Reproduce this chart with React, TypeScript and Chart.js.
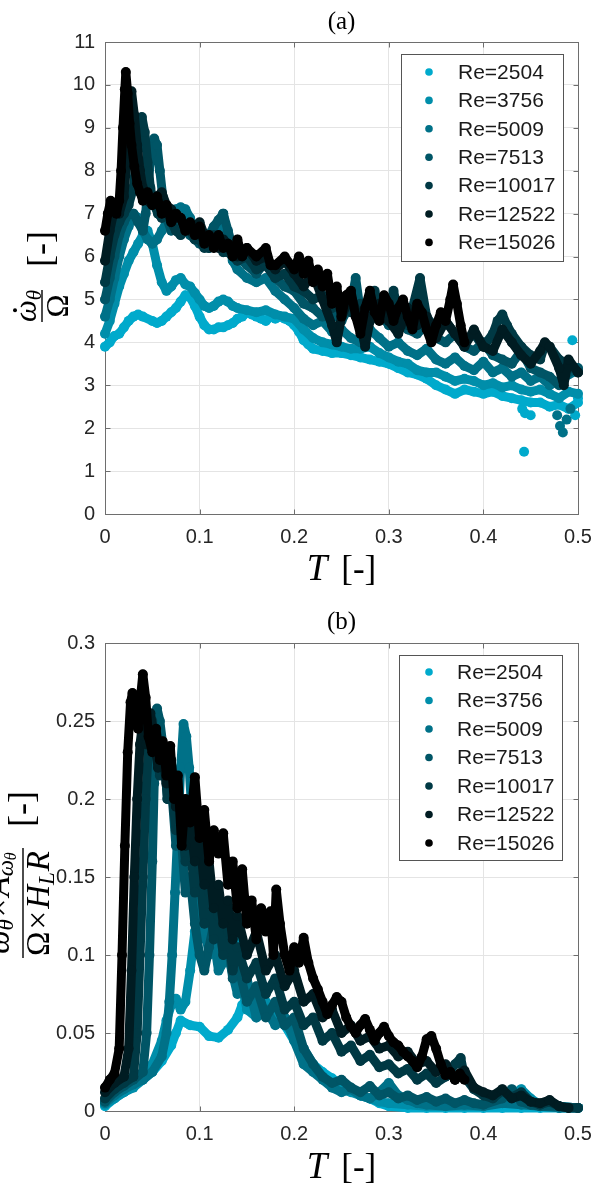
import React, { useEffect, useRef } from "react";
import { Chart, registerables } from "chart.js";
Chart.register(...registerables);

type P = [number, number];

const reLabels = ["Re=2504", "Re=3756", "Re=5009", "Re=7513", "Re=10017", "Re=12522", "Re=15026"];
const seriesColors = ["#00aacc", "#008eaa", "#007188", "#005566", "#003944", "#001c22", "#000000"];
const xTickLabels = ["0", "0.1", "0.2", "0.3", "0.4", "0.5"];
const yTickLabelsA = ["0", "1", "2", "3", "4", "5", "6", "7", "8", "9", "10", "11"];
const yTickLabelsB = ["0", "0.05", "0.1", "0.15", "0.2", "0.25", "0.3"];

// ---------- panel (a) : dω/Ω ----------
const a2504: P[] = [[0,3.9],[0.005,4.0],[0.01,4.15],[0.015,4.2],[0.02,4.35],[0.025,4.5],[0.03,4.6],[0.035,4.65],[0.04,4.6],[0.05,4.5],[0.055,4.45],[0.06,4.5],[0.065,4.6],[0.07,4.7],[0.075,4.8],[0.08,4.95],[0.085,5.1],[0.09,5.05],[0.095,4.85],[0.1,4.6],[0.105,4.4],[0.11,4.3],[0.115,4.3],[0.12,4.35],[0.125,4.35],[0.13,4.4],[0.135,4.45],[0.14,4.55],[0.145,4.6],[0.15,4.7],[0.155,4.65],[0.16,4.6],[0.165,4.55],[0.17,4.5],[0.175,4.6],[0.18,4.55],[0.185,4.6],[0.19,4.55],[0.195,4.5],[0.2,4.4],[0.205,4.25],[0.21,4.05],[0.215,3.95],[0.22,3.85],[0.23,3.8],[0.24,3.75],[0.25,3.75],[0.26,3.7],[0.27,3.65],[0.28,3.6],[0.29,3.55],[0.3,3.5],[0.31,3.4],[0.32,3.3],[0.33,3.25],[0.34,3.15],[0.35,3.0],[0.36,2.9],[0.37,2.8],[0.38,2.9],[0.39,2.85],[0.4,2.8],[0.41,2.85],[0.42,2.75],[0.43,2.7],[0.44,2.65],[0.45,2.6],[0.46,2.6],[0.47,2.5],[0.48,2.55],[0.49,2.45],[0.5,2.6]];
const a3756: P[] = [[0,4.2],[0.005,4.5],[0.01,4.9],[0.015,5.3],[0.02,5.6],[0.025,5.9],[0.03,6.1],[0.035,6.3],[0.04,6.5],[0.045,6.6],[0.05,6.3],[0.055,5.8],[0.06,5.4],[0.065,5.2],[0.07,5.3],[0.075,5.45],[0.08,5.5],[0.085,5.35],[0.09,5.3],[0.095,5.15],[0.1,5.0],[0.105,4.85],[0.11,4.8],[0.115,4.85],[0.12,4.95],[0.125,5.0],[0.13,4.95],[0.135,4.85],[0.14,4.8],[0.15,4.75],[0.16,4.7],[0.17,4.75],[0.18,4.65],[0.19,4.6],[0.2,4.55],[0.21,4.3],[0.22,4.1],[0.23,4.0],[0.24,3.95],[0.25,3.9],[0.26,3.85],[0.27,3.85],[0.28,3.9],[0.29,3.75],[0.3,3.65],[0.31,3.55],[0.32,3.5],[0.33,3.35],[0.34,3.3],[0.35,3.3],[0.36,3.2],[0.37,3.1],[0.38,3.15],[0.39,3.1],[0.4,3.0],[0.41,3.05],[0.42,2.95],[0.43,3.0],[0.44,2.9],[0.45,2.85],[0.46,2.9],[0.47,2.8],[0.48,2.7],[0.49,2.85],[0.5,2.8]];
const a5009: P[] = [[0,4.6],[0.005,5.0],[0.01,5.5],[0.015,6.0],[0.02,6.4],[0.025,6.7],[0.03,7.0],[0.035,6.9],[0.04,6.6],[0.045,6.4],[0.05,6.3],[0.055,6.4],[0.06,6.6],[0.065,6.8],[0.07,7.0],[0.075,7.1],[0.08,7.15],[0.085,7.1],[0.09,6.9],[0.095,6.6],[0.1,6.4],[0.105,6.3],[0.11,6.2],[0.115,6.4],[0.12,6.7],[0.125,7.0],[0.13,6.4],[0.135,5.9],[0.14,5.7],[0.15,5.5],[0.16,5.4],[0.17,5.5],[0.18,5.2],[0.19,5.0],[0.2,4.8],[0.21,4.55],[0.22,4.4],[0.23,4.5],[0.24,4.25],[0.25,4.3],[0.26,4.1],[0.27,4.0],[0.28,4.3],[0.29,4.1],[0.3,3.9],[0.31,4.0],[0.32,3.8],[0.33,3.7],[0.34,3.85],[0.35,3.6],[0.36,3.5],[0.37,3.65],[0.38,3.45],[0.39,3.35],[0.4,3.55],[0.41,3.3],[0.42,3.4],[0.43,3.2],[0.44,3.3],[0.45,3.1],[0.46,3.2],[0.47,3.0],[0.48,3.1],[0.49,3.25],[0.5,3.35]];
const a7513: P[] = [[0,5.0],[0.005,5.5],[0.01,6.0],[0.015,6.5],[0.02,6.8],[0.025,7.0],[0.03,7.0],[0.035,6.8],[0.04,6.6],[0.043,7.0],[0.046,7.8],[0.049,8.4],[0.052,8.75],[0.055,8.6],[0.058,8.0],[0.061,7.4],[0.065,6.9],[0.07,6.6],[0.075,6.7],[0.08,6.75],[0.085,6.6],[0.09,6.5],[0.095,6.4],[0.1,6.3],[0.105,6.4],[0.11,6.5],[0.115,6.7],[0.12,6.85],[0.125,7.0],[0.13,6.6],[0.135,6.2],[0.14,6.0],[0.15,5.8],[0.16,5.6],[0.17,5.9],[0.18,5.5],[0.19,5.3],[0.2,5.2],[0.21,4.9],[0.22,4.8],[0.23,4.6],[0.24,4.7],[0.25,4.5],[0.26,4.9],[0.265,5.5],[0.27,4.7],[0.28,4.5],[0.29,4.7],[0.3,4.4],[0.31,4.5],[0.32,4.3],[0.33,4.2],[0.34,4.4],[0.35,4.1],[0.36,4.0],[0.37,4.2],[0.38,3.9],[0.39,3.8],[0.4,4.0],[0.41,3.7],[0.42,3.6],[0.43,3.5],[0.44,3.8],[0.45,3.4],[0.46,3.3],[0.47,3.2],[0.48,3.0],[0.49,3.3],[0.5,3.4]];
const a10017: P[] = [[0,5.4],[0.005,6.0],[0.01,6.5],[0.015,6.8],[0.02,7.0],[0.025,7.2],[0.03,7.6],[0.033,8.3],[0.036,8.9],[0.039,9.25],[0.042,8.9],[0.045,8.2],[0.048,7.6],[0.052,7.2],[0.056,7.0],[0.06,6.9],[0.065,7.0],[0.07,6.8],[0.075,6.6],[0.08,6.5],[0.085,6.7],[0.09,6.6],[0.095,6.4],[0.1,6.4],[0.105,6.2],[0.11,6.2],[0.115,6.5],[0.12,6.4],[0.125,6.1],[0.13,6.1],[0.14,5.9],[0.15,6.0],[0.16,5.7],[0.17,5.8],[0.18,5.5],[0.19,5.6],[0.2,5.3],[0.21,5.2],[0.22,5.0],[0.23,5.1],[0.24,4.8],[0.25,4.9],[0.26,4.7],[0.27,4.9],[0.28,4.6],[0.285,5.2],[0.29,4.8],[0.3,4.5],[0.305,5.2],[0.31,4.7],[0.32,4.4],[0.325,4.8],[0.333,5.5],[0.34,4.6],[0.35,4.3],[0.36,4.5],[0.37,4.2],[0.38,4.0],[0.39,4.2],[0.4,3.9],[0.41,4.2],[0.415,4.5],[0.42,4.65],[0.425,4.4],[0.43,4.2],[0.44,3.9],[0.45,3.7],[0.46,3.6],[0.465,3.95],[0.47,3.9],[0.48,3.6],[0.49,3.5],[0.5,3.3]];
const a12522: P[] = [[0,5.9],[0.005,6.6],[0.01,7.1],[0.015,7.0],[0.02,7.4],[0.023,8.2],[0.026,9.3],[0.028,9.85],[0.031,9.3],[0.034,8.6],[0.037,8.0],[0.04,7.6],[0.045,7.3],[0.05,7.2],[0.055,7.4],[0.06,7.5],[0.065,7.2],[0.07,7.1],[0.075,6.9],[0.08,6.9],[0.085,6.6],[0.09,6.6],[0.095,6.7],[0.1,6.8],[0.105,6.5],[0.11,6.4],[0.115,6.3],[0.12,6.2],[0.125,6.4],[0.13,6.3],[0.14,6.0],[0.15,6.2],[0.16,5.9],[0.17,6.0],[0.18,5.7],[0.19,5.9],[0.2,5.6],[0.21,5.3],[0.22,5.6],[0.23,5.0],[0.24,4.4],[0.245,4.0],[0.25,4.6],[0.26,5.1],[0.27,4.4],[0.275,3.9],[0.28,4.5],[0.29,4.9],[0.3,4.5],[0.31,4.2],[0.32,4.8],[0.33,4.4],[0.34,4.6],[0.35,4.1],[0.36,4.5],[0.37,4.2],[0.38,3.9],[0.39,4.3],[0.4,3.9],[0.41,3.8],[0.42,4.3],[0.43,4.0],[0.44,3.7],[0.45,3.5],[0.46,3.8],[0.465,4.0],[0.47,3.9],[0.48,3.4],[0.485,3.0],[0.49,3.6],[0.5,3.3]];
const a15026: P[] = [[0,6.6],[0.003,7.0],[0.006,7.3],[0.009,7.1],[0.012,7.0],[0.015,7.3],[0.017,8.0],[0.019,9.0],[0.021,9.9],[0.022,10.3],[0.024,9.8],[0.026,9.1],[0.028,8.6],[0.031,8.1],[0.034,7.7],[0.037,7.5],[0.04,7.3],[0.045,7.5],[0.05,7.2],[0.055,7.4],[0.06,7.0],[0.065,7.2],[0.07,6.8],[0.075,7.0],[0.08,6.9],[0.085,6.6],[0.09,6.8],[0.095,6.5],[0.1,6.7],[0.105,6.3],[0.11,6.5],[0.115,6.2],[0.12,6.5],[0.125,6.2],[0.13,6.3],[0.135,6.0],[0.14,6.4],[0.145,6.0],[0.15,6.2],[0.16,6.0],[0.17,6.2],[0.175,5.8],[0.18,5.8],[0.19,6.0],[0.2,5.7],[0.205,6.0],[0.21,5.6],[0.215,5.9],[0.22,5.4],[0.225,5.7],[0.23,5.3],[0.235,5.6],[0.24,4.9],[0.245,5.3],[0.25,4.6],[0.255,5.1],[0.26,5.2],[0.265,4.6],[0.27,4.2],[0.275,4.8],[0.28,5.2],[0.285,4.7],[0.29,4.5],[0.295,5.1],[0.3,4.9],[0.305,4.5],[0.31,4.8],[0.315,5.0],[0.32,4.6],[0.325,4.3],[0.33,4.9],[0.335,4.7],[0.34,4.3],[0.345,4.0],[0.35,4.4],[0.355,4.7],[0.36,4.5],[0.365,5.0],[0.368,5.35],[0.372,4.9],[0.376,4.4],[0.38,4.0]];
const aStray2504: P[] = [[0.443,1.45],[0.441,2.45],[0.444,2.35],[0.45,2.3],[0.494,4.05],[0.497,2.3],[0.5,2.7]];
const aStray5009: P[] = [[0.478,2.3],[0.481,2.05],[0.484,1.9],[0.488,2.2],[0.492,2.45]];

// ---------- panel (b) : normalised circulation ----------
const b2504: P[] = [[0,0.003],[0.01,0.008],[0.02,0.012],[0.03,0.016],[0.04,0.02],[0.05,0.025],[0.06,0.032],[0.07,0.042],[0.075,0.05],[0.08,0.058],[0.09,0.055],[0.1,0.054],[0.11,0.048],[0.12,0.047],[0.13,0.052],[0.14,0.06],[0.145,0.068],[0.15,0.072],[0.16,0.068],[0.17,0.062],[0.18,0.06],[0.19,0.055],[0.2,0.045],[0.21,0.035],[0.22,0.03],[0.23,0.025],[0.24,0.021],[0.25,0.016],[0.26,0.013],[0.27,0.01],[0.28,0.008],[0.29,0.005],[0.3,0.003],[0.32,0.002],[0.34,0.002],[0.36,0.002],[0.38,0.002],[0.4,0.002],[0.42,0.002],[0.44,0.002],[0.46,0.002],[0.48,0.002],[0.5,0.002]];
const b3756: P[] = [[0,0.004],[0.01,0.008],[0.02,0.012],[0.03,0.015],[0.04,0.02],[0.05,0.03],[0.06,0.045],[0.065,0.058],[0.07,0.068],[0.075,0.072],[0.08,0.065],[0.085,0.07],[0.09,0.09],[0.095,0.115],[0.1,0.13],[0.105,0.145],[0.11,0.15],[0.115,0.13],[0.12,0.11],[0.125,0.12],[0.13,0.13],[0.135,0.12],[0.14,0.1],[0.145,0.08],[0.15,0.065],[0.16,0.06],[0.17,0.07],[0.18,0.065],[0.19,0.055],[0.2,0.05],[0.21,0.04],[0.22,0.03],[0.23,0.022],[0.24,0.018],[0.25,0.014],[0.26,0.012],[0.27,0.01],[0.28,0.008],[0.29,0.006],[0.3,0.005],[0.32,0.004],[0.34,0.003],[0.36,0.003],[0.38,0.003],[0.4,0.003],[0.42,0.008],[0.44,0.014],[0.45,0.008],[0.46,0.004],[0.48,0.003],[0.5,0.002]];
const b5009: P[] = [[0,0.005],[0.01,0.01],[0.02,0.014],[0.03,0.017],[0.04,0.02],[0.05,0.025],[0.06,0.035],[0.065,0.05],[0.068,0.07],[0.071,0.1],[0.074,0.14],[0.077,0.18],[0.08,0.22],[0.083,0.248],[0.086,0.24],[0.089,0.22],[0.092,0.19],[0.095,0.16],[0.098,0.13],[0.1,0.11],[0.105,0.12],[0.11,0.1],[0.115,0.11],[0.12,0.09],[0.13,0.1],[0.14,0.075],[0.15,0.085],[0.16,0.06],[0.17,0.065],[0.18,0.055],[0.19,0.06],[0.2,0.045],[0.21,0.03],[0.22,0.025],[0.23,0.02],[0.24,0.015],[0.25,0.012],[0.26,0.014],[0.27,0.01],[0.28,0.008],[0.29,0.012],[0.3,0.018],[0.31,0.01],[0.32,0.007],[0.33,0.005],[0.34,0.004],[0.36,0.003],[0.38,0.004],[0.4,0.003],[0.42,0.005],[0.44,0.004],[0.46,0.003],[0.48,0.002],[0.5,0.002]];
const b7513: P[] = [[0,0.006],[0.01,0.012],[0.02,0.016],[0.03,0.02],[0.04,0.025],[0.044,0.05],[0.047,0.1],[0.05,0.16],[0.052,0.21],[0.053,0.24],[0.055,0.258],[0.058,0.25],[0.062,0.23],[0.066,0.2],[0.07,0.21],[0.075,0.17],[0.08,0.18],[0.085,0.14],[0.09,0.15],[0.095,0.12],[0.1,0.1],[0.105,0.09],[0.11,0.105],[0.115,0.12],[0.12,0.125],[0.125,0.1],[0.13,0.11],[0.135,0.085],[0.14,0.095],[0.15,0.07],[0.16,0.08],[0.17,0.06],[0.18,0.07],[0.19,0.055],[0.2,0.06],[0.21,0.04],[0.22,0.03],[0.23,0.022],[0.24,0.018],[0.25,0.02],[0.26,0.015],[0.27,0.012],[0.28,0.016],[0.29,0.01],[0.3,0.012],[0.31,0.008],[0.32,0.01],[0.33,0.007],[0.34,0.009],[0.35,0.006],[0.36,0.008],[0.37,0.005],[0.38,0.007],[0.39,0.005],[0.4,0.004],[0.42,0.008],[0.43,0.014],[0.44,0.006],[0.45,0.004],[0.46,0.003],[0.48,0.003],[0.5,0.002]];
const b10017: P[] = [[0,0.008],[0.01,0.014],[0.02,0.018],[0.03,0.022],[0.034,0.05],[0.037,0.1],[0.04,0.15],[0.043,0.2],[0.046,0.235],[0.05,0.25],[0.054,0.23],[0.058,0.215],[0.062,0.23],[0.066,0.2],[0.07,0.21],[0.075,0.18],[0.08,0.195],[0.085,0.16],[0.09,0.17],[0.095,0.14],[0.1,0.155],[0.105,0.12],[0.11,0.14],[0.115,0.11],[0.12,0.125],[0.125,0.1],[0.13,0.115],[0.135,0.09],[0.14,0.105],[0.15,0.085],[0.16,0.095],[0.17,0.075],[0.18,0.085],[0.19,0.065],[0.2,0.07],[0.21,0.055],[0.22,0.06],[0.23,0.045],[0.24,0.05],[0.25,0.038],[0.26,0.042],[0.27,0.032],[0.28,0.036],[0.29,0.028],[0.3,0.03],[0.31,0.024],[0.32,0.027],[0.33,0.02],[0.34,0.024],[0.35,0.018],[0.36,0.022],[0.37,0.03],[0.376,0.034],[0.38,0.022],[0.39,0.014],[0.4,0.01],[0.41,0.008],[0.42,0.013],[0.43,0.009],[0.44,0.012],[0.45,0.006],[0.46,0.004],[0.47,0.006],[0.48,0.003],[0.49,0.002],[0.5,0.002]];
const b12522: P[] = [[0,0.012],[0.01,0.018],[0.02,0.022],[0.025,0.04],[0.028,0.09],[0.031,0.15],[0.034,0.2],[0.037,0.235],[0.04,0.25],[0.044,0.235],[0.048,0.255],[0.052,0.24],[0.056,0.22],[0.06,0.235],[0.065,0.21],[0.07,0.225],[0.075,0.195],[0.08,0.2],[0.085,0.17],[0.09,0.185],[0.095,0.16],[0.1,0.175],[0.105,0.145],[0.11,0.16],[0.115,0.13],[0.12,0.145],[0.125,0.12],[0.13,0.135],[0.135,0.11],[0.14,0.125],[0.15,0.1],[0.16,0.115],[0.17,0.09],[0.18,0.1],[0.19,0.08],[0.2,0.09],[0.21,0.07],[0.22,0.075],[0.23,0.06],[0.24,0.065],[0.25,0.05],[0.26,0.055],[0.27,0.045],[0.28,0.048],[0.29,0.04],[0.3,0.042],[0.31,0.035],[0.32,0.038],[0.33,0.03],[0.34,0.032],[0.35,0.025],[0.36,0.03],[0.37,0.02],[0.38,0.026],[0.39,0.015],[0.4,0.012],[0.41,0.01],[0.42,0.014],[0.43,0.008],[0.44,0.01],[0.45,0.006],[0.46,0.005],[0.47,0.007],[0.48,0.003],[0.49,0.002]];
const b15026: P[] = [[0,0.015],[0.005,0.02],[0.01,0.024],[0.015,0.04],[0.018,0.1],[0.021,0.17],[0.024,0.23],[0.027,0.262],[0.029,0.268],[0.032,0.255],[0.035,0.245],[0.038,0.268],[0.04,0.28],[0.043,0.265],[0.046,0.24],[0.05,0.23],[0.054,0.245],[0.058,0.225],[0.061,0.237],[0.065,0.215],[0.069,0.234],[0.073,0.2],[0.077,0.215],[0.081,0.17],[0.085,0.2],[0.09,0.185],[0.095,0.214],[0.1,0.175],[0.105,0.193],[0.11,0.16],[0.115,0.18],[0.12,0.165],[0.125,0.178],[0.13,0.145],[0.135,0.16],[0.14,0.13],[0.145,0.155],[0.15,0.12],[0.155,0.135],[0.16,0.11],[0.165,0.13],[0.17,0.115],[0.175,0.128],[0.178,0.1],[0.181,0.142],[0.185,0.12],[0.19,0.1],[0.195,0.09],[0.2,0.105],[0.205,0.095],[0.21,0.111],[0.215,0.095],[0.22,0.085],[0.225,0.078],[0.23,0.07],[0.235,0.062],[0.24,0.068],[0.245,0.073],[0.25,0.07],[0.255,0.06],[0.26,0.054],[0.265,0.05],[0.27,0.055],[0.275,0.059],[0.28,0.052],[0.285,0.045],[0.29,0.05],[0.295,0.054],[0.3,0.048],[0.305,0.044],[0.31,0.042],[0.315,0.038],[0.32,0.035],[0.325,0.032],[0.33,0.028],[0.335,0.035],[0.34,0.046],[0.345,0.048],[0.35,0.04],[0.355,0.03],[0.36,0.023],[0.365,0.025],[0.37,0.02],[0.375,0.024],[0.38,0.02]];

const seriesA: P[][] = [a2504, a3756, a5009, a7513, a10017, a12522, a15026];
const seriesB: P[][] = [b2504, b3756, b5009, b7513, b10017, b12522, b15026];
const straysA: { idx: number; pts: P[] }[] = [{ idx: 0, pts: aStray2504 }, { idx: 2, pts: aStray5009 }];

const AXIS_COLOR = "#6e6e6e";
const GRID_COLOR = "#e4e4e4";
const TICK_FONT = "'Liberation Sans', Arial, sans-serif";
const SERIF = "'Liberation Serif', 'Times New Roman', serif";

type Decor = {
  title: string;
  titleBaseline: number;
  xLabelBaseline: number;
  yLabel: (ctx: CanvasRenderingContext2D) => void;
  legendBox: [number, number, number, number];
  legendY0: number;
  legendStep: number;
  markerX: number;
  textX: number;
};

function drawXLabel(ctx: CanvasRenderingContext2D, baseline: number, cx: number) {
  ctx.fillStyle = "#000";
  ctx.textBaseline = "alphabetic";
  ctx.font = `italic 37px ${SERIF}`;
  const wT = ctx.measureText("T").width;
  ctx.font = `35px ${SERIF}`;
  const wB = ctx.measureText("[-]").width;
  const gap = 14;
  const total = wT + gap + wB;
  const x0 = cx - total / 2;
  ctx.font = `italic 37px ${SERIF}`;
  ctx.textAlign = "left";
  ctx.fillText("T", x0, baseline);
  ctx.font = `35px ${SERIF}`;
  ctx.fillText("[-]", x0 + wT + gap, baseline);
}

function drawBracket(ctx: CanvasRenderingContext2D, centerX: number, size: number) {
  ctx.font = `${size}px ${SERIF}`;
  ctx.textAlign = "center";
  ctx.textBaseline = "middle";
  ctx.fillText("[-]", centerX, 1);
  ctx.textBaseline = "alphabetic";
  ctx.textAlign = "left";
}

function yLabelA(ctx: CanvasRenderingContext2D) {
  ctx.save();
  ctx.translate(42, 306);
  ctx.rotate(-Math.PI / 2);
  ctx.fillStyle = "#000";
  ctx.strokeStyle = "#000";
  ctx.textAlign = "left";
  ctx.textBaseline = "alphabetic";
  const fMain = `italic 31px ${SERIF}`;
  const fSub = `italic 21px ${SERIF}`;
  ctx.font = fMain;
  const wOm = ctx.measureText("ω").width;
  ctx.font = fSub;
  const wTh = ctx.measureText("θ").width;
  const numW = wOm + wTh;
  const x = -numW / 2;
  ctx.font = fMain;
  ctx.fillText("ω", x, -6);
  ctx.beginPath();
  ctx.arc(x + wOm / 2 + 1, -27, 2, 0, Math.PI * 2);
  ctx.fill();
  ctx.font = fSub;
  ctx.fillText("θ", x + wOm, -1);
  ctx.lineWidth = 1.4;
  ctx.beginPath();
  ctx.moveTo(-16, 0);
  ctx.lineTo(16, 0);
  ctx.stroke();
  ctx.font = `31px ${SERIF}`;
  const wO = ctx.measureText("Ω").width;
  ctx.fillText("Ω", -wO / 2, 26);
  drawBracket(ctx, 57, 36);
  ctx.restore();
}

function yLabelB(ctx: CanvasRenderingContext2D) {
  ctx.save();
  ctx.translate(23, 303);
  ctx.rotate(-Math.PI / 2);
  ctx.fillStyle = "#000";
  ctx.strokeStyle = "#000";
  ctx.textAlign = "left";
  ctx.textBaseline = "alphabetic";
  const fM = `italic 33px ${SERIF}`;
  const fU = `33px ${SERIF}`;
  const fS = `italic 23px ${SERIF}`;
  const fSS = `italic 16px ${SERIF}`;
  type Piece = { t: string; f: string; dy: number; pad?: number };
  const num: Piece[] = [
    { t: "ω", f: fM, dy: 0 },
    { t: "θ", f: fS, dy: 4 },
    { t: "×", f: fU, dy: 0, pad: 2 },
    { t: "A", f: fM, dy: 0 },
    { t: "ω", f: fS, dy: 4 },
    { t: "θ", f: fSS, dy: 7 },
  ];
  const den: Piece[] = [
    { t: "Ω", f: fU, dy: 0 },
    { t: "×", f: fU, dy: 0, pad: 2 },
    { t: "H", f: fM, dy: 0 },
    { t: "L", f: fS, dy: 5 },
    { t: "R", f: fM, dy: 0, pad: 1 },
  ];
  const widthOf = (arr: Piece[]) =>
    arr.reduce((s, p) => {
      ctx.font = p.f;
      return s + ctx.measureText(p.t).width + 2 * (p.pad || 0);
    }, 0);
  const drawRow = (arr: Piece[], base: number) => {
    let x = -widthOf(arr) / 2;
    arr.forEach((p) => {
      ctx.font = p.f;
      x += p.pad || 0;
      ctx.fillText(p.t, x, base + p.dy);
      x += ctx.measureText(p.t).width + (p.pad || 0);
    });
  };
  const wNum = widthOf(num);
  const wDen = widthOf(den);
  const half = Math.max(wNum, wDen) / 2 + 2;
  drawRow(num, -14);
  ctx.lineWidth = 1.4;
  ctx.beginPath();
  ctx.moveTo(-half, 0);
  ctx.lineTo(half, 0);
  ctx.stroke();
  drawRow(den, 26);
  drawBracket(ctx, 94, 36);
  ctx.restore();
}

function makeDecor(d: Decor) {
  return {
    id: "decor",
    beforeDatasetsDraw(chart: any) {
      const { ctx, chartArea: ca, scales } = chart;
      ctx.save();
      ctx.strokeStyle = AXIS_COLOR;
      ctx.lineWidth = 1;
      const L = Math.round(ca.left) + 0.5;
      const R = Math.round(ca.right) + 0.5;
      const T = Math.round(ca.top) + 0.5;
      const B = Math.round(ca.bottom) + 0.5;
      ctx.beginPath();
      scales.x.ticks.forEach((t: any) => {
        const px = Math.round(scales.x.getPixelForValue(t.value)) + 0.5;
        ctx.moveTo(px, B);
        ctx.lineTo(px, B - 5);
        ctx.moveTo(px, T);
        ctx.lineTo(px, T + 5);
      });
      scales.y.ticks.forEach((t: any) => {
        const py = Math.round(scales.y.getPixelForValue(t.value)) + 0.5;
        ctx.moveTo(L, py);
        ctx.lineTo(L + 5, py);
        ctx.moveTo(R, py);
        ctx.lineTo(R - 5, py);
      });
      ctx.stroke();
      ctx.strokeRect(L, T, R - L, B - T);
      ctx.restore();
    },
    afterDraw(chart: any) {
      const { ctx, chartArea: ca } = chart;
      ctx.save();
      ctx.fillStyle = "#000";
      ctx.font = `25px ${SERIF}`;
      ctx.textAlign = "center";
      ctx.textBaseline = "alphabetic";
      ctx.fillText(d.title, (ca.left + ca.right) / 2, d.titleBaseline);
      drawXLabel(ctx, d.xLabelBaseline, (ca.left + ca.right) / 2);
      d.yLabel(ctx);
      const [x0, y0, x1, y1] = d.legendBox;
      ctx.fillStyle = "#fff";
      ctx.fillRect(x0, y0, x1 - x0, y1 - y0);
      ctx.strokeStyle = "#555";
      ctx.lineWidth = 1;
      ctx.strokeRect(x0 + 0.5, y0 + 0.5, x1 - x0, y1 - y0);
      ctx.font = `21px ${TICK_FONT}`;
      ctx.textAlign = "left";
      ctx.textBaseline = "middle";
      reLabels.forEach((lab, i) => {
        const y = d.legendY0 + i * d.legendStep;
        ctx.fillStyle = seriesColors[i];
        ctx.beginPath();
        ctx.arc(d.markerX, y, 3.8, 0, Math.PI * 2);
        ctx.fill();
        ctx.fillStyle = "#1a1a1a";
        ctx.fillText(lab, d.textX, y + 1);
      });
      ctx.restore();
    },
  };
}

function buildConfig(
  series: P[][],
  strays: { idx: number; pts: P[] }[],
  yMax: number,
  yStep: number,
  yLabels: string[],
  pad: { top: number; bottom: number },
  decor: Decor
) {
  const base = (i: number) => ({
    borderColor: seriesColors[i],
    backgroundColor: seriesColors[i],
    pointRadius: 5,
    pointBorderWidth: 0,
    pointHoverRadius: 5,
    order: 10 - i,
    clip: 8,
  });
  const datasets: any[] = series.map((s, i) => ({
    ...base(i),
    label: reLabels[i],
    data: s.map(([x, y]) => ({ x, y })),
    showLine: true,
    borderWidth: 9,
    borderJoinStyle: "round",
    borderCapStyle: "round",
    tension: 0,
  }));
  strays.forEach((s) =>
    datasets.push({
      ...base(s.idx),
      label: "",
      data: s.pts.map(([x, y]) => ({ x, y })),
      showLine: false,
    })
  );
  return {
    type: "scatter" as const,
    data: { datasets },
    options: {
      animation: false,
      responsive: false,
      devicePixelRatio: 1,
      events: [],
      layout: { padding: { top: pad.top, right: 38, bottom: pad.bottom, left: 0 } },
      plugins: { legend: { display: false }, tooltip: { enabled: false }, title: { display: false } },
      scales: {
        x: {
          type: "linear",
          min: 0,
          max: 0.5,
          afterFit: (s: any) => {
            s.height = 40;
          },
          ticks: {
            stepSize: 0.1,
            autoSkip: false,
            maxRotation: 0,
            padding: 11,
            color: "#262626",
            font: { family: TICK_FONT, size: 20 },
            callback: (_v: any, i: number) => xTickLabels[i],
          },
          grid: { color: GRID_COLOR, drawTicks: false, lineWidth: 1 },
          border: { display: false },
        },
        y: {
          type: "linear",
          min: 0,
          max: yMax,
          afterFit: (s: any) => {
            s.width = 105;
          },
          ticks: {
            stepSize: yStep,
            autoSkip: false,
            padding: 10,
            color: "#262626",
            font: { family: TICK_FONT, size: 20 },
            callback: (_v: any, i: number) => yLabels[i],
          },
          grid: { color: GRID_COLOR, drawTicks: false, lineWidth: 1 },
          border: { display: false },
        },
      },
    },
    plugins: [makeDecor(decor)],
  };
}

function ChartCanvas({ top, height, make }: { top: number; height: number; make: () => any }) {
  const ref = useRef<HTMLCanvasElement | null>(null);
  useEffect(() => {
    if (!ref.current) return;
    const chart = new Chart(ref.current, make());
    return () => chart.destroy();
  }, []);
  return (
    <canvas
      ref={ref}
      width={616}
      height={height}
      style={{ position: "absolute", left: 0, top, width: 616, height, display: "block" }}
    />
  );
}

const makeA = () =>
  buildConfig(seriesA, straysA, 11, 1, yTickLabelsA, { top: 42, bottom: 46 }, {
    title: "(a)",
    titleBaseline: 29,
    xLabelBaseline: 580,
    yLabel: yLabelA,
    legendBox: [401, 54, 563, 261],
    legendY0: 72,
    legendStep: 28.4,
    markerX: 429,
    textX: 458,
  });

const makeB = () =>
  buildConfig(seriesB, [], 0.3, 0.05, yTickLabelsB, { top: 43, bottom: 38 }, {
    title: "(b)",
    titleBaseline: 29,
    xLabelBaseline: 578,
    yLabel: yLabelB,
    legendBox: [399, 55, 562, 260],
    legendY0: 72,
    legendStep: 28.5,
    markerX: 429,
    textX: 457,
  });

export default function App() {
  return (
    <div>
      <ChartCanvas top={0} height={600} make={makeA} />
      <ChartCanvas top={600} height={589} make={makeB} />
    </div>
  );
}
